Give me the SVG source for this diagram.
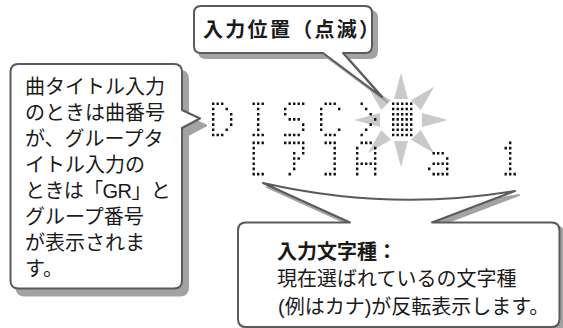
<svg xmlns="http://www.w3.org/2000/svg" xmlns:xlink="http://www.w3.org/1999/xlink" width="563" height="328" viewBox="0 0 563 328">
<style>
.sh{fill:#a3a3a3;stroke:#a3a3a3;stroke-width:2;stroke-linejoin:round}
.bx{fill:#fff;stroke:#5a5a5a;stroke-width:2;stroke-linejoin:round}
.t{font-family:"Noto Sans CJK JP","Noto Sans",sans-serif;font-size:20px;fill:#1a1a1a}
.m{font-family:"Liberation Sans","Noto Sans CJK JP",sans-serif;font-size:20px;fill:#1a1a1a}
.b{font-weight:bold}
.ray{fill:#cacaca}
.d{fill:#111}
</style>
<defs>
<path id="gD" d="M0 0h2.4v2.6h-2.4zM4.5 0h2.4v2.6h-2.4zM9 0h2.4v2.6h-2.4zM0 5.2h2.4v2.6h-2.4zM13.5 5.2h2.4v2.6h-2.4zM0 10.4h2.4v2.6h-2.4zM18 10.4h2.4v2.6h-2.4zM0 15.6h2.4v2.6h-2.4zM18 15.6h2.4v2.6h-2.4zM0 20.8h2.4v2.6h-2.4zM18 20.8h2.4v2.6h-2.4zM0 26h2.4v2.6h-2.4zM13.5 26h2.4v2.6h-2.4zM0 31.2h2.4v2.6h-2.4zM4.5 31.2h2.4v2.6h-2.4zM9 31.2h2.4v2.6h-2.4z"/>
<path id="gI" d="M4.5 0h2.4v2.6h-2.4zM9 0h2.4v2.6h-2.4zM13.5 0h2.4v2.6h-2.4zM9 5.2h2.4v2.6h-2.4zM9 10.4h2.4v2.6h-2.4zM9 15.6h2.4v2.6h-2.4zM9 20.8h2.4v2.6h-2.4zM9 26h2.4v2.6h-2.4zM4.5 31.2h2.4v2.6h-2.4zM9 31.2h2.4v2.6h-2.4zM13.5 31.2h2.4v2.6h-2.4z"/>
<path id="gS" d="M4.5 0h2.4v2.6h-2.4zM9 0h2.4v2.6h-2.4zM13.5 0h2.4v2.6h-2.4zM18 0h2.4v2.6h-2.4zM0 5.2h2.4v2.6h-2.4zM0 10.4h2.4v2.6h-2.4zM4.5 15.6h2.4v2.6h-2.4zM9 15.6h2.4v2.6h-2.4zM13.5 15.6h2.4v2.6h-2.4zM18 20.8h2.4v2.6h-2.4zM18 26h2.4v2.6h-2.4zM0 31.2h2.4v2.6h-2.4zM4.5 31.2h2.4v2.6h-2.4zM9 31.2h2.4v2.6h-2.4zM13.5 31.2h2.4v2.6h-2.4z"/>
<path id="gC" d="M4.5 0h2.4v2.6h-2.4zM9 0h2.4v2.6h-2.4zM13.5 0h2.4v2.6h-2.4zM0 5.2h2.4v2.6h-2.4zM18 5.2h2.4v2.6h-2.4zM0 10.4h2.4v2.6h-2.4zM0 15.6h2.4v2.6h-2.4zM0 20.8h2.4v2.6h-2.4zM0 26h2.4v2.6h-2.4zM18 26h2.4v2.6h-2.4zM4.5 31.2h2.4v2.6h-2.4zM9 31.2h2.4v2.6h-2.4zM13.5 31.2h2.4v2.6h-2.4z"/>
<path id="gGt" d="M4.5 0h2.4v2.6h-2.4zM9 5.2h2.4v2.6h-2.4zM13.5 10.4h2.4v2.6h-2.4zM18 15.6h2.4v2.6h-2.4zM13.5 20.8h2.4v2.6h-2.4zM9 26h2.4v2.6h-2.4zM4.5 31.2h2.4v2.6h-2.4z"/>
<path id="gRow" d="M0 0h2.4v2.6h-2.4zM4.5 0h2.4v2.6h-2.4zM9 0h2.4v2.6h-2.4zM13.5 0h2.4v2.6h-2.4zM18 0h2.4v2.6h-2.4z"/>
<path id="gLb" d="M4.5 0h2.4v2.6h-2.4zM9 0h2.4v2.6h-2.4zM13.5 0h2.4v2.6h-2.4zM4.5 5.2h2.4v2.6h-2.4zM4.5 10.4h2.4v2.6h-2.4zM4.5 15.6h2.4v2.6h-2.4zM4.5 20.8h2.4v2.6h-2.4zM4.5 26h2.4v2.6h-2.4zM4.5 31.2h2.4v2.6h-2.4zM9 31.2h2.4v2.6h-2.4zM13.5 31.2h2.4v2.6h-2.4z"/>
<path id="gKa" d="M0 0h2.4v2.6h-2.4zM4.5 0h2.4v2.6h-2.4zM9 0h2.4v2.6h-2.4zM13.5 0h2.4v2.6h-2.4zM18 0h2.4v2.6h-2.4zM18 5.2h2.4v2.6h-2.4zM9 10.4h2.4v2.6h-2.4zM18 10.4h2.4v2.6h-2.4zM9 15.6h2.4v2.6h-2.4zM13.5 15.6h2.4v2.6h-2.4zM9 20.8h2.4v2.6h-2.4zM9 26h2.4v2.6h-2.4zM4.5 31.2h2.4v2.6h-2.4z"/>
<path id="gRb" d="M4.5 0h2.4v2.6h-2.4zM9 0h2.4v2.6h-2.4zM13.5 0h2.4v2.6h-2.4zM13.5 5.2h2.4v2.6h-2.4zM13.5 10.4h2.4v2.6h-2.4zM13.5 15.6h2.4v2.6h-2.4zM13.5 20.8h2.4v2.6h-2.4zM13.5 26h2.4v2.6h-2.4zM4.5 31.2h2.4v2.6h-2.4zM9 31.2h2.4v2.6h-2.4zM13.5 31.2h2.4v2.6h-2.4z"/>
<path id="gA" d="M4.5 0h2.4v2.6h-2.4zM9 0h2.4v2.6h-2.4zM13.5 0h2.4v2.6h-2.4zM0 5.2h2.4v2.6h-2.4zM18 5.2h2.4v2.6h-2.4zM0 10.4h2.4v2.6h-2.4zM18 10.4h2.4v2.6h-2.4zM0 15.6h2.4v2.6h-2.4zM18 15.6h2.4v2.6h-2.4zM0 20.8h2.4v2.6h-2.4zM4.5 20.8h2.4v2.6h-2.4zM9 20.8h2.4v2.6h-2.4zM13.5 20.8h2.4v2.6h-2.4zM18 20.8h2.4v2.6h-2.4zM0 26h2.4v2.6h-2.4zM18 26h2.4v2.6h-2.4zM0 31.2h2.4v2.6h-2.4zM18 31.2h2.4v2.6h-2.4z"/>
<path id="ga" d="M4.5 10.4h2.4v2.6h-2.4zM9 10.4h2.4v2.6h-2.4zM13.5 10.4h2.4v2.6h-2.4zM18 15.6h2.4v2.6h-2.4zM4.5 20.8h2.4v2.6h-2.4zM9 20.8h2.4v2.6h-2.4zM13.5 20.8h2.4v2.6h-2.4zM18 20.8h2.4v2.6h-2.4zM0 26h2.4v2.6h-2.4zM18 26h2.4v2.6h-2.4zM4.5 31.2h2.4v2.6h-2.4zM9 31.2h2.4v2.6h-2.4zM13.5 31.2h2.4v2.6h-2.4zM18 31.2h2.4v2.6h-2.4z"/>
<path id="g1" d="M9 0h2.4v2.6h-2.4zM4.5 5.2h2.4v2.6h-2.4zM9 5.2h2.4v2.6h-2.4zM9 10.4h2.4v2.6h-2.4zM9 15.6h2.4v2.6h-2.4zM9 20.8h2.4v2.6h-2.4zM9 26h2.4v2.6h-2.4zM4.5 31.2h2.4v2.6h-2.4zM9 31.2h2.4v2.6h-2.4zM13.5 31.2h2.4v2.6h-2.4z"/>
<polygon id="ray" points="401,73 394,99 408,99"/>
</defs>
<rect width="563" height="328" fill="#fff"/>

<g id="sparkle" class="ray">
<use xlink:href="#ray"/>
<use xlink:href="#ray" transform="rotate(45 401 120)"/>
<use xlink:href="#ray" transform="rotate(90 401 120)"/>
<use xlink:href="#ray" transform="rotate(135 401 120)"/>
<use xlink:href="#ray" transform="rotate(180 401 120)"/>
<use xlink:href="#ray" transform="rotate(225 401 120)"/>
<use xlink:href="#ray" transform="rotate(270 401 120)"/>
<use xlink:href="#ray" transform="rotate(315 401 120)"/>
</g>

<g id="display" class="d">
<use xlink:href="#gD" x="212" y="102.5"/>
<use xlink:href="#gI" x="248" y="102.5"/>
<use xlink:href="#gS" x="284" y="102.5"/>
<use xlink:href="#gC" x="320" y="102.5"/>
<use xlink:href="#gGt" x="356" y="102.5"/>
<use xlink:href="#gRow" x="392" y="102.5"/>
<use xlink:href="#gRow" x="392" y="107.7"/>
<use xlink:href="#gRow" x="392" y="112.9"/>
<use xlink:href="#gRow" x="392" y="118.1"/>
<use xlink:href="#gRow" x="392" y="123.3"/>
<use xlink:href="#gRow" x="392" y="128.5"/>
<use xlink:href="#gRow" x="392" y="133.7"/>
<use xlink:href="#gLb" x="248" y="141.6"/>
<use xlink:href="#gKa" x="284" y="141.6"/>
<use xlink:href="#gRb" x="320" y="141.6"/>
<use xlink:href="#gA" x="356" y="141.6"/>
<use xlink:href="#ga" x="428" y="141.6"/>
<use xlink:href="#g1" x="500" y="141.6"/>
</g>

<g id="callout-position">
<path class="sh" transform="translate(5,5)" d="M201,6 H365 Q372,6 372,13 V46 Q372,53 365,53 H343 L382,97 L323,53 H201 Q194,53 194,46 V13 Q194,6 201,6 Z"/>
<path class="bx" d="M201,6 H365 Q372,6 372,13 V46 Q372,53 365,53 H343 L382,97 L323,53 H201 Q194,53 194,46 V13 Q194,6 201,6 Z"/>
<text class="t b" x="203" y="37" style="letter-spacing:2.3px">入力位置（点滅）</text>
</g>

<g id="callout-number">
<path class="sh" transform="translate(6,7)" d="M18.5,64 H174 Q182,64 182,72 V110 L200,118.5 L182,128 V280.5 Q182,288.5 174,288.5 H18.5 Q10.5,288.5 10.5,280.5 V72 Q10.5,64 18.5,64 Z"/>
<path class="bx" d="M18.5,64 H174 Q182,64 182,72 V110 L200,118.5 L182,128 V280.5 Q182,288.5 174,288.5 H18.5 Q10.5,288.5 10.5,280.5 V72 Q10.5,64 18.5,64 Z"/>
<text class="m" x="25" y="94.3"><tspan x="25" y="94.3">曲タイトル入力</tspan><tspan x="25" y="120.2">のときは曲番号</tspan><tspan x="25" y="146.1">が、グループタ</tspan><tspan x="25" y="172">イトル入力の</tspan><tspan x="25" y="197.9" style="letter-spacing:-0.6px">ときは「GR」と</tspan><tspan x="25" y="223.8">グループ番号</tspan><tspan x="25" y="249.7">が表示されま</tspan><tspan x="25" y="275.6">す。</tspan></text>
</g>

<g id="callout-type">
<path class="sh" transform="translate(4,4)" d="M246,222.5 H350 L263,183 Q391,212 515,191 L432,222.5 H551.5 Q559.5,222.5 559.5,230.5 V319 Q559.5,327 551.5,327 H246 Q238,327 238,319 V230.5 Q238,222.5 246,222.5 Z"/>
<path class="bx" d="M246,222.5 H350 L263,183 Q391,212 515,191 L432,222.5 H551.5 Q559.5,222.5 559.5,230.5 V319 Q559.5,327 551.5,327 H246 Q238,327 238,319 V230.5 Q238,222.5 246,222.5 Z"/>
<text class="m" x="277" y="259"><tspan class="b" x="277" y="259">入力文字種：</tspan><tspan x="277" y="286">現在選ばれているの文字種</tspan><tspan x="278" y="313.5">(例はカナ)が反転表示します。</tspan></text>
</g>
</svg>
